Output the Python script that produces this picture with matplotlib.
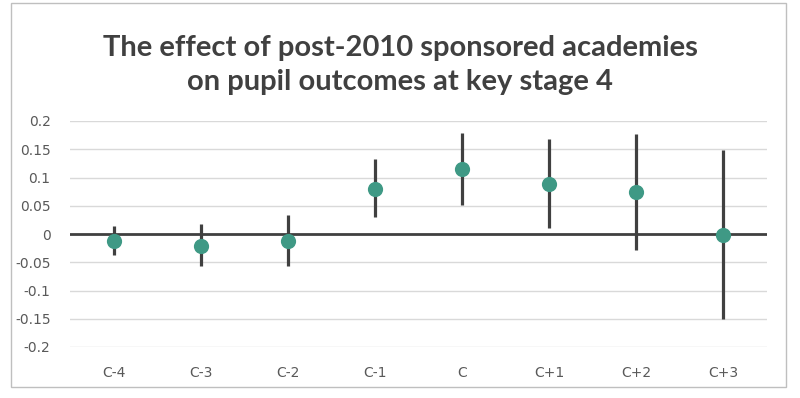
import matplotlib
matplotlib.use("Agg")
import matplotlib.pyplot as plt
from matplotlib.patches import Rectangle

categories = ["C-4", "C-3", "C-2", "C-1", "C", "C+1", "C+2", "C+3"]
estimate = [-0.012, -0.021, -0.012, 0.080, 0.115, 0.089, 0.074, -0.002]
ci_low = [-0.037, -0.057, -0.057, 0.030, 0.052, 0.011, -0.028, -0.150]
ci_high = [0.014, 0.017, 0.033, 0.133, 0.179, 0.169, 0.177, 0.149]
yticks = [0.2, 0.15, 0.1, 0.05, 0, -0.05, -0.1, -0.15, -0.2]

TEAL = "#3f9985"
DARK = "#404040"
GRID = "#d9d9d9"
TICK = "#595959"

fig = plt.figure(figsize=(8, 3.98), dpi=100)
ax = fig.add_axes([70 / 800, 1 - 347 / 398, 697 / 800, 226 / 398])

x = list(range(len(categories)))
lower = [e - lo for e, lo in zip(estimate, ci_low)]
upper = [hi - e for e, hi in zip(estimate, ci_high)]

for t in yticks:
    if t != 0:
        ax.axhline(t, color=GRID, lw=1, zorder=0)
ax.axhline(0, color=DARK, lw=2, zorder=1)

ax.errorbar(x, estimate, yerr=[lower, upper], fmt="none", ecolor=DARK,
            elinewidth=2.3, capsize=0, zorder=2)
ax.scatter(x, estimate, s=120, color=TEAL, zorder=3, linewidths=0)

ax.set_xlim(-0.5, len(categories) - 0.5)
ax.set_ylim(-0.2, 0.2)
ax.set_xticks(x)
ax.set_xticklabels(categories)
ax.set_yticks(yticks)
ax.set_yticklabels([f"{t:g}" for t in yticks])
ax.tick_params(length=0, labelsize=10, colors=TICK)
ax.tick_params(axis="x", pad=14)
ax.tick_params(axis="y", pad=14)
for s in ax.spines.values():
    s.set_visible(False)

fig.text(0.5, 1 - 48 / 398, "The effect of post-2010 sponsored academies",
         ha="center", va="center", fontsize=21, fontweight="bold",
         color=DARK, family="Lato")
fig.text(0.5, 1 - 82 / 398, "on pupil outcomes at key stage 4",
         ha="center", va="center", fontsize=21, fontweight="bold",
         color=DARK, family="Lato")

fig.patches.append(Rectangle((11 / 800, 1 - 387 / 398), 775 / 800, 384 / 398,
                             transform=fig.transFigure, fill=False,
                             edgecolor="#bfbfbf", lw=1))

fig.savefig("out.png", dpi=100)
